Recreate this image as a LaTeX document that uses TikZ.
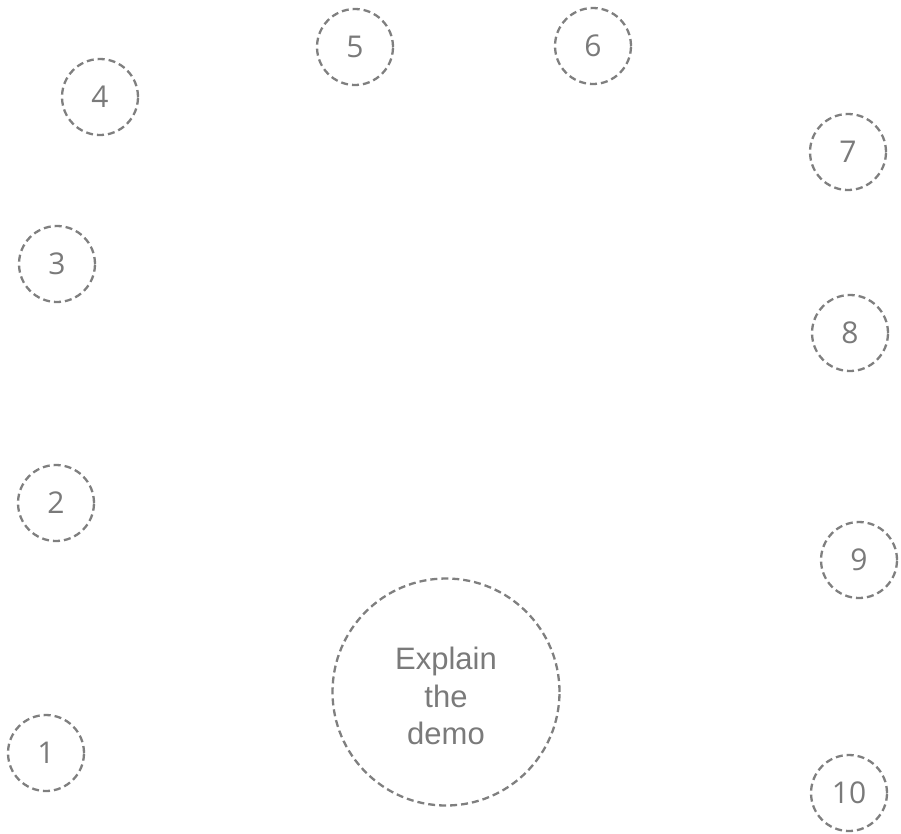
\documentclass[tikz,border=0pt]{standalone}
\usepackage{fontspec}
\setmainfont{Liberation Sans}
\newfontfamily\numfont{Open Sans}
\definecolor{dgray}{HTML}{7F7F7F}
\definecolor{tgray}{HTML}{7A7A7A}
\begin{document}
\begin{tikzpicture}[x=1pt,y=-1pt,
  dcirc/.style={circle,draw=dgray,line width=2.3pt,dash pattern=on 7pt off 4pt,text=tgray,inner sep=0pt},
  small/.style={dcirc,minimum size=76pt,font=\numfont\fontsize{30}{34}\selectfont},
  big/.style={dcirc,minimum size=227pt},
  bigtext/.style={text=tgray,font=\fontsize{31}{37.5}\selectfont,align=center,inner sep=0pt}]
\useasboundingbox (0,0) rectangle (901,833);
\node[small] (n1) at (46,753) {1};
\node[small] (n2) at (56,503) {2};
\node[small] (n3) at (57,264) {3};
\node[small] (n4) at (100,97) {4};
\node[small] (n5) at (355,47) {5};
\node[small] (n6) at (593,46) {6};
\node[small] (n7) at (848,152) {7};
\node[small] (n8) at (850,333) {8};
\node[small] (n9) at (859,560) {9};
\node[small] (n10) at (849,793) {10};
\node[big] (c) at (446,692) {};
\node[bigtext] (ct) at ([yshift=-4pt]c.center) {Explain\\the\\demo};
\end{tikzpicture}
\end{document}
